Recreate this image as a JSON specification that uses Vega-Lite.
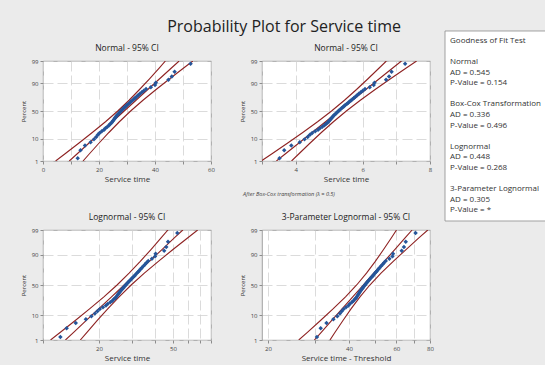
{
  "$schema": "https://vega.github.io/schema/vega-lite/v6.json",
  "padding": {"left": 19, "top": 18, "right": 0, "bottom": 2},
  "title": {"text": "Probability Plot for Service time", "fontSize": 16, "fontWeight": "normal", "color": "#222", "anchor": "middle", "offset": -4, "dx": -6},
  "datasets": {
    "obs": [
      {"z": -2.2, "t": 12.4, "bc": 3.521, "t3": 30.4},
      {"z": -1.83, "t": 13.4, "bc": 3.661, "t3": 31.4},
      {"z": -1.61, "t": 15.0, "bc": 3.873, "t3": 33.0},
      {"z": -1.45, "t": 17.0, "bc": 4.123, "t3": 35.0},
      {"z": -1.32, "t": 18.2, "bc": 4.266, "t3": 36.2},
      {"z": -1.21, "t": 19.0, "bc": 4.359, "t3": 37.0},
      {"z": -1.11, "t": 19.6, "bc": 4.427, "t3": 37.6},
      {"z": -1.02, "t": 20.2, "bc": 4.494, "t3": 38.2},
      {"z": -0.944, "t": 21.0, "bc": 4.583, "t3": 39.0},
      {"z": -0.869, "t": 21.8, "bc": 4.669, "t3": 39.8},
      {"z": -0.798, "t": 22.3, "bc": 4.722, "t3": 40.3},
      {"z": -0.732, "t": 23.0, "bc": 4.796, "t3": 41.0},
      {"z": -0.668, "t": 23.6, "bc": 4.858, "t3": 41.6},
      {"z": -0.607, "t": 24.0, "bc": 4.899, "t3": 42.0},
      {"z": -0.548, "t": 24.5, "bc": 4.95, "t3": 42.5},
      {"z": -0.492, "t": 24.8, "bc": 4.98, "t3": 42.8},
      {"z": -0.437, "t": 25.1, "bc": 5.01, "t3": 43.1},
      {"z": -0.382, "t": 25.4, "bc": 5.04, "t3": 43.4},
      {"z": -0.33, "t": 25.7, "bc": 5.07, "t3": 43.7},
      {"z": -0.277, "t": 26.0, "bc": 5.099, "t3": 44.0},
      {"z": -0.225, "t": 26.3, "bc": 5.128, "t3": 44.3},
      {"z": -0.175, "t": 26.6, "bc": 5.158, "t3": 44.6},
      {"z": -0.125, "t": 27.0, "bc": 5.196, "t3": 45.0},
      {"z": -0.075, "t": 27.3, "bc": 5.225, "t3": 45.3},
      {"z": -0.025, "t": 27.7, "bc": 5.263, "t3": 45.7},
      {"z": 0.025, "t": 28.0, "bc": 5.292, "t3": 46.0},
      {"z": 0.075, "t": 28.4, "bc": 5.329, "t3": 46.4},
      {"z": 0.125, "t": 28.8, "bc": 5.367, "t3": 46.8},
      {"z": 0.175, "t": 29.2, "bc": 5.404, "t3": 47.2},
      {"z": 0.225, "t": 29.6, "bc": 5.441, "t3": 47.6},
      {"z": 0.277, "t": 30.0, "bc": 5.477, "t3": 48.0},
      {"z": 0.33, "t": 30.5, "bc": 5.523, "t3": 48.5},
      {"z": 0.382, "t": 31.0, "bc": 5.568, "t3": 49.0},
      {"z": 0.437, "t": 31.4, "bc": 5.604, "t3": 49.4},
      {"z": 0.492, "t": 31.9, "bc": 5.648, "t3": 49.9},
      {"z": 0.548, "t": 32.4, "bc": 5.692, "t3": 50.4},
      {"z": 0.607, "t": 32.9, "bc": 5.736, "t3": 50.9},
      {"z": 0.668, "t": 33.4, "bc": 5.779, "t3": 51.4},
      {"z": 0.732, "t": 34.0, "bc": 5.831, "t3": 52.0},
      {"z": 0.798, "t": 34.6, "bc": 5.882, "t3": 52.6},
      {"z": 0.869, "t": 35.3, "bc": 5.941, "t3": 53.3},
      {"z": 0.944, "t": 36.0, "bc": 6.0, "t3": 54.0},
      {"z": 1.02, "t": 36.8, "bc": 6.066, "t3": 54.8},
      {"z": 1.11, "t": 38.5, "bc": 6.205, "t3": 56.5},
      {"z": 1.21, "t": 40.0, "bc": 6.325, "t3": 58.0},
      {"z": 1.32, "t": 40.3, "bc": 6.348, "t3": 58.3},
      {"z": 1.45, "t": 44.8, "bc": 6.693, "t3": 62.8},
      {"z": 1.61, "t": 46.0, "bc": 6.782, "t3": 64.0},
      {"z": 1.83, "t": 47.0, "bc": 6.856, "t3": 65.0},
      {"z": 2.2, "t": 52.7, "bc": 7.259, "t3": 70.7}
    ],
    "ci": [
      {"panel": "p1", "z": -2.326, "lo": 4.5, "fit": 9.39, "hi": 14.29},
      {"panel": "p1", "z": -2, "lo": 7.77, "fit": 12.14, "hi": 16.51},
      {"panel": "p1", "z": -1.5, "lo": 12.75, "fit": 16.36, "hi": 19.97},
      {"panel": "p1", "z": -1, "lo": 17.61, "fit": 20.57, "hi": 23.53},
      {"panel": "p1", "z": -0.5, "lo": 22.31, "fit": 24.79, "hi": 27.27},
      {"panel": "p1", "z": 0, "lo": 26.7, "fit": 29.0, "hi": 31.3},
      {"panel": "p1", "z": 0.5, "lo": 30.74, "fit": 33.22, "hi": 35.7},
      {"panel": "p1", "z": 1, "lo": 34.47, "fit": 37.43, "hi": 40.39},
      {"panel": "p1", "z": 1.5, "lo": 38.04, "fit": 41.65, "hi": 45.26},
      {"panel": "p1", "z": 2, "lo": 41.49, "fit": 45.86, "hi": 50.23},
      {"panel": "p1", "z": 2.326, "lo": 43.72, "fit": 48.61, "hi": 53.51},
      {"panel": "p2", "z": -2.326, "lo": 2.979, "fit": 3.429, "hi": 3.879},
      {"panel": "p2", "z": -2, "lo": 3.287, "fit": 3.69, "hi": 4.093},
      {"panel": "p2", "z": -1.5, "lo": 3.755, "fit": 4.09, "hi": 4.425},
      {"panel": "p2", "z": -1, "lo": 4.213, "fit": 4.49, "hi": 4.767},
      {"panel": "p2", "z": -0.5, "lo": 4.654, "fit": 4.89, "hi": 5.126},
      {"panel": "p2", "z": 0, "lo": 5.07, "fit": 5.29, "hi": 5.51},
      {"panel": "p2", "z": 0.5, "lo": 5.454, "fit": 5.69, "hi": 5.926},
      {"panel": "p2", "z": 1, "lo": 5.813, "fit": 6.09, "hi": 6.367},
      {"panel": "p2", "z": 1.5, "lo": 6.155, "fit": 6.49, "hi": 6.825},
      {"panel": "p2", "z": 2, "lo": 6.487, "fit": 6.89, "hi": 7.293},
      {"panel": "p2", "z": 2.326, "lo": 6.701, "fit": 7.151, "hi": 7.601},
      {"panel": "p3", "z": -2.326, "lo": 10.98, "fit": 13.2, "hi": 15.87},
      {"panel": "p3", "z": -2, "lo": 12.4, "fit": 14.61, "hi": 17.23},
      {"panel": "p3", "z": -1.5, "lo": 14.91, "fit": 17.09, "hi": 19.58},
      {"panel": "p3", "z": -1, "lo": 17.86, "fit": 19.97, "hi": 22.34},
      {"panel": "p3", "z": -0.5, "lo": 21.25, "fit": 23.35, "hi": 25.66},
      {"panel": "p3", "z": 0, "lo": 25.01, "fit": 27.29, "hi": 29.78},
      {"panel": "p3", "z": 0.5, "lo": 29.03, "fit": 31.9, "hi": 35.05},
      {"panel": "p3", "z": 1, "lo": 33.34, "fit": 37.29, "hi": 41.71},
      {"panel": "p3", "z": 1.5, "lo": 38.05, "fit": 43.6, "hi": 49.96},
      {"panel": "p3", "z": 2, "lo": 43.23, "fit": 50.96, "hi": 60.07},
      {"panel": "p3", "z": 2.326, "lo": 46.94, "fit": 56.42, "hi": 67.82},
      {"panel": "p4", "z": -2.326, "lo": 26.02, "fit": 29.74, "hi": 33.99},
      {"panel": "p4", "z": -2, "lo": 28.02, "fit": 31.54, "hi": 35.5},
      {"panel": "p4", "z": -1.5, "lo": 31.34, "fit": 34.51, "hi": 37.99},
      {"panel": "p4", "z": -1, "lo": 34.97, "fit": 37.76, "hi": 40.76},
      {"panel": "p4", "z": -0.5, "lo": 38.82, "fit": 41.3, "hi": 43.95},
      {"panel": "p4", "z": 0, "lo": 42.71, "fit": 45.19, "hi": 47.81},
      {"panel": "p4", "z": 0.5, "lo": 46.46, "fit": 49.44, "hi": 52.61},
      {"panel": "p4", "z": 1, "lo": 50.1, "fit": 54.1, "hi": 58.41},
      {"panel": "p4", "z": 1.5, "lo": 53.76, "fit": 59.18, "hi": 65.16},
      {"panel": "p4", "z": 2, "lo": 57.52, "fit": 64.75, "hi": 72.89},
      {"panel": "p4", "z": 2.326, "lo": 60.07, "fit": 68.66, "hi": 78.5}
    ],
    "gof": [
      {"row": 0, "label": "Goodness of Fit Test"},
      {"row": 2, "label": "Normal"},
      {"row": 3, "label": "AD = 0.545"},
      {"row": 4, "label": "P-Value = 0.154"},
      {"row": 6, "label": "Box-Cox Transformation"},
      {"row": 7, "label": "AD = 0.336"},
      {"row": 8, "label": "P-Value = 0.496"},
      {"row": 10, "label": "Lognormal"},
      {"row": 11, "label": "AD = 0.448"},
      {"row": 12, "label": "P-Value = 0.268"},
      {"row": 14, "label": "3-Parameter Lognormal"},
      {"row": 15, "label": "AD = 0.305"},
      {"row": 16, "label": "P-Value = *"}
    ]
  },
  "columns": 3,
  "bounds": "flush",
  "align": "each",
  "spacing": {"row": 69, "column": 51},
  "concat": [
    {
      "width": 168, "height": 100,
      "title": {"text": "Normal - 95% CI"},
      "encoding": {
        "y": {"field": "z", "type": "quantitative", "scale": {"domain": [-2.326, 2.326], "nice": false, "zero": false},
              "axis": {"title": "Percent", "values": [-2.326, -1.2816, 0, 1.2816, 2.326], "labelExpr": "datum.value < -2 ? '1' : datum.value < -1 ? '10' : datum.value < 1 ? '50' : datum.value < 2 ? '90' : '99'"}}
      },
      "layer": [
        {
          "data": {"name": "ci"},
          "transform": [{"filter": "datum.panel == 'p1'"}, {"fold": ["lo", "fit", "hi"], "as": ["band", "x"]}],
          "mark": {"type": "line", "color": "#8e2222", "strokeWidth": 1.1, "clip": true},
          "encoding": {
            "x": {"field": "x", "type": "quantitative", "scale": {"domain": [0, 60], "nice": false, "zero": false},
                  "axis": {"title": "Service time", "values": [0, 10, 20, 30, 40, 50, 60], "labelExpr": "datum.value % 20 == 0 ? datum.label : ''"}},
            "detail": {"field": "band"},
            "order": {"field": "z"}
          }
        },
        {
          "data": {"name": "obs"},
          "mark": {"type": "point", "shape": "diamond", "filled": true, "size": 20, "color": "#25559a", "opacity": 1, "clip": true},
          "encoding": {
            "x": {"field": "t", "type": "quantitative", "scale": {"domain": [0, 60], "nice": false, "zero": false},
                  "axis": {"title": "Service time", "values": [0, 10, 20, 30, 40, 50, 60], "labelExpr": "datum.value % 20 == 0 ? datum.label : ''"}}
          }
        }
      ]
    },
    {
      "width": 168, "height": 100,
      "title": {"text": "Normal - 95% CI"},
      "encoding": {
        "y": {"field": "z", "type": "quantitative", "scale": {"domain": [-2.326, 2.326], "nice": false, "zero": false},
              "axis": {"title": "Percent", "values": [-2.326, -1.2816, 0, 1.2816, 2.326], "labelExpr": "datum.value < -2 ? '1' : datum.value < -1 ? '10' : datum.value < 1 ? '50' : datum.value < 2 ? '90' : '99'"}}
      },
      "layer": [
        {
          "data": {"name": "ci"},
          "transform": [{"filter": "datum.panel == 'p2'"}, {"fold": ["lo", "fit", "hi"], "as": ["band", "x"]}],
          "mark": {"type": "line", "color": "#8e2222", "strokeWidth": 1.1, "clip": true},
          "encoding": {
            "x": {"field": "x", "type": "quantitative", "scale": {"domain": [3, 8], "nice": false, "zero": false},
                  "axis": {"title": "Service time", "values": [3, 4, 5, 6, 7, 8], "labelExpr": "datum.value % 2 == 0 ? datum.label : ''"}},
            "detail": {"field": "band"},
            "order": {"field": "z"}
          }
        },
        {
          "data": {"name": "obs"},
          "mark": {"type": "point", "shape": "diamond", "filled": true, "size": 20, "color": "#25559a", "opacity": 1, "clip": true},
          "encoding": {
            "x": {"field": "bc", "type": "quantitative", "scale": {"domain": [3, 8], "nice": false, "zero": false},
                  "axis": {"title": "Service time", "values": [3, 4, 5, 6, 7, 8], "labelExpr": "datum.value % 2 == 0 ? datum.label : ''"}}
          }
        }
      ]
    },
    {
      "width": 60, "height": 100,
      "view": {"fill": null, "stroke": null},
      "layer": [
        {
          "data": {"values": [{}]},
          "mark": {"type": "rect", "fill": "white", "stroke": "#8c8c8c", "strokeWidth": 0.8},
          "encoding": {
            "x": {"datum": -36, "type": "quantitative", "scale": {"domain": [0, 60], "nice": false, "zero": false}, "axis": null},
            "x2": {"datum": 79},
            "y": {"datum": -0.946, "type": "quantitative", "scale": {"domain": [1.89, 11.342], "reverse": true, "nice": false, "zero": false}, "axis": null},
            "y2": {"datum": 17.013}
          }
        },
        {
          "data": {"name": "gof"},
          "mark": {"type": "text", "align": "left", "baseline": "middle", "fontSize": 8, "color": "#333", "dx": 5},
          "encoding": {
            "x": {"datum": -36, "type": "quantitative", "scale": {"domain": [0, 60], "nice": false, "zero": false}, "axis": null},
            "y": {"field": "row", "type": "quantitative", "scale": {"domain": [1.89, 11.342], "reverse": true, "nice": false, "zero": false}, "axis": null},
            "text": {"field": "label"}
          }
        },
        {
          "data": {"values": [{"note": "After Box-Cox transformation (λ = 0.5)"}]},
          "mark": {"type": "text", "align": "center", "baseline": "middle", "fontSize": 5.5, "fontStyle": "italic", "color": "#444"},
          "encoding": {
            "x": {"datum": -192, "type": "quantitative", "scale": {"domain": [0, 60], "nice": false, "zero": false}, "axis": null},
            "y": {"datum": 14.461, "type": "quantitative", "scale": {"domain": [1.89, 11.342], "reverse": true, "nice": false, "zero": false}, "axis": null},
            "text": {"field": "note"}
          }
        }
      ]
    },
    {
      "width": 168, "height": 110,
      "title": {"text": "Lognormal - 95% CI"},
      "encoding": {
        "y": {"field": "z", "type": "quantitative", "scale": {"domain": [-2.326, 2.326], "nice": false, "zero": false},
              "axis": {"title": "Percent", "values": [-2.326, -1.2816, 0, 1.2816, 2.326], "labelExpr": "datum.value < -2 ? '1' : datum.value < -1 ? '10' : datum.value < 1 ? '50' : datum.value < 2 ? '90' : '99'"}}
      },
      "layer": [
        {
          "data": {"name": "ci"},
          "transform": [{"filter": "datum.panel == 'p3'"}, {"fold": ["lo", "fit", "hi"], "as": ["band", "x"]}],
          "mark": {"type": "line", "color": "#8e2222", "strokeWidth": 1.1, "clip": true},
          "encoding": {
            "x": {"field": "x", "type": "quantitative", "scale": {"type": "log", "domain": [10, 80], "nice": false},
                  "axis": {"title": "Service time", "values": [10, 20, 30, 40, 50, 60, 70, 80], "format": "d", "labelExpr": "datum.value == 20 || datum.value == 50 ? datum.label : ''"}},
            "detail": {"field": "band"},
            "order": {"field": "z"}
          }
        },
        {
          "data": {"name": "obs"},
          "mark": {"type": "point", "shape": "diamond", "filled": true, "size": 20, "color": "#25559a", "opacity": 1, "clip": true},
          "encoding": {
            "x": {"field": "t", "type": "quantitative", "scale": {"type": "log", "domain": [10, 80], "nice": false},
                  "axis": {"title": "Service time", "values": [10, 20, 30, 40, 50, 60, 70, 80], "format": "d", "labelExpr": "datum.value == 20 || datum.value == 50 ? datum.label : ''"}}
          }
        }
      ]
    },
    {
      "width": 168, "height": 110,
      "title": {"text": "3-Parameter Lognormal - 95% CI"},
      "encoding": {
        "y": {"field": "z", "type": "quantitative", "scale": {"domain": [-2.326, 2.326], "nice": false, "zero": false},
              "axis": {"title": "Percent", "values": [-2.326, -1.2816, 0, 1.2816, 2.326], "labelExpr": "datum.value < -2 ? '1' : datum.value < -1 ? '10' : datum.value < 1 ? '50' : datum.value < 2 ? '90' : '99'"}}
      },
      "layer": [
        {
          "data": {"name": "ci"},
          "transform": [{"filter": "datum.panel == 'p4'"}, {"fold": ["lo", "fit", "hi"], "as": ["band", "x"]}],
          "mark": {"type": "line", "color": "#8e2222", "strokeWidth": 1.1, "clip": true},
          "encoding": {
            "x": {"field": "x", "type": "quantitative", "scale": {"type": "log", "domain": [19, 80], "nice": false},
                  "axis": {"title": "Service time - Threshold", "values": [20, 30, 40, 50, 60, 70, 80], "format": "d", "labelExpr": "datum.value % 20 == 0 ? datum.label : ''"}},
            "detail": {"field": "band"},
            "order": {"field": "z"}
          }
        },
        {
          "data": {"name": "obs"},
          "mark": {"type": "point", "shape": "diamond", "filled": true, "size": 20, "color": "#25559a", "opacity": 1, "clip": true},
          "encoding": {
            "x": {"field": "t3", "type": "quantitative", "scale": {"type": "log", "domain": [19, 80], "nice": false},
                  "axis": {"title": "Service time - Threshold", "values": [20, 30, 40, 50, 60, 70, 80], "format": "d", "labelExpr": "datum.value % 20 == 0 ? datum.label : ''"}}
          }
        }
      ]
    }
  ],
  "config": {
    "background": "#ebebeb",
    "font": "Open Sans",
    "view": {"fill": "white", "stroke": "#8c8c8c", "strokeWidth": 0.8},
    "axis": {"domain": false, "grid": true, "gridColor": "#d2d2d2", "gridDash": [10, 4], "gridWidth": 0.8, "ticks": true, "tickColor": "#8c8c8c", "tickSize": 3, "labelFontSize": 6, "labelColor": "#444", "labelFlush": false, "labelOverlap": false, "labelPadding": 2, "titleFontWeight": "normal", "titleColor": "#333"},
    "axisX": {"titleFontSize": 8, "titlePadding": 3},
    "axisY": {"titleFontSize": 6, "titlePadding": 5},
    "title": {"fontWeight": "normal", "fontSize": 8.5, "color": "#222", "offset": 6}
  }
}
